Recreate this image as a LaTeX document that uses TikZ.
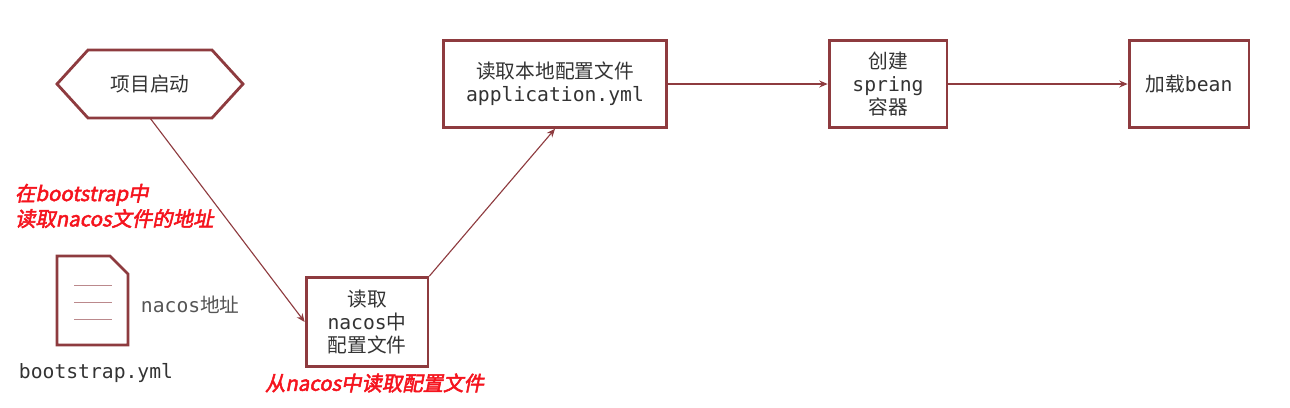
\documentclass[tikz,border=0pt]{standalone}
\usepackage{fontspec}
\setmonofont{DejaVu Sans Mono}
\newfontfamily\cjk{Noto Sans CJK SC}
\newfontfamily\redcjk{Noto Sans CJK SC}[FakeSlant=0.2,FakeBold=2.5]
\usetikzlibrary{arrows.meta,shapes.misc}
\definecolor{BOX}{HTML}{8E3B3F}
\definecolor{ALERT}{HTML}{F5141E}
\definecolor{GREYTXT}{HTML}{555555}
\newcommand{\zh}[1]{{\cjk #1}}
\begin{document}
\begin{tikzpicture}[x=0.025cm,y=-0.025cm,>={Stealth[length=6pt,width=5pt]},
  every node/.style={font=\fontsize{14}{16.5}\selectfont\ttfamily,text=black!80},
  stepbox/.style={draw=BOX,line width=2pt,align=center,inner sep=0pt},
  link/.style={->,draw=BOX,line width=0.8pt},
  alert/.style={text=ALERT,font=\fontsize{14.5}{18}\selectfont\redcjk,align=left,anchor=west}]
  \useasboundingbox (0,0) rectangle (1290,408);

  % start shape
  \draw[BOX,line width=2pt] (57,84) -- (88,50) -- (212,50) -- (243,84) -- (212,118) -- (88,118) -- cycle;
  \node (start) at (150,84) {\zh{项目启动}};
  \coordinate (startout) at (150,118);

  \node[stepbox,minimum width=122pt*0.71,minimum height=89pt*0.71] (nacos) at (367,322)
    {\zh{读取}\\nacos\zh{中}\\\zh{配置文件}};
  \node[stepbox,minimum width=224pt*0.71,minimum height=87pt*0.71] (local) at (555,84)
    {\zh{读取本地配置文件}\\application.yml};
  \node[stepbox,minimum width=118pt*0.71,minimum height=87pt*0.71] (spring) at (888,84)
    {\zh{创建}\\spring\\\zh{容器}};
  \node[stepbox,minimum width=120pt*0.71,minimum height=87pt*0.71] (bean) at (1189,84)
    {\zh{加载}bean};

  \draw[link] (startout) -- (nacos.west);
  \draw[link] (nacos.north east) -- (local.south);
  \draw[link] (local) -- (spring);
  \draw[link] (spring) -- (bean);

  % bootstrap file icon
  \draw[BOX,line width=2pt] (57,256) -- (110,256) -- (128,274) -- (128,345) -- (57,345) -- cycle;
  \foreach \y in {285,302,319}
    \draw[BOX!60,line width=0.6pt] (74,\y) -- (112,\y);
  \node[text=GREYTXT,anchor=west] (addr) at (136,305) {nacos\zh{地址}};
  \node[anchor=west] (file) at (14,373) {bootstrap.yml};

  \node[alert] (note1) at (10,206) {在bootstrap中\\读取nacos文件的地址};
  \node[alert] (note2) at (260,383) {从nacos中读取配置文件};
\end{tikzpicture}
\end{document}
